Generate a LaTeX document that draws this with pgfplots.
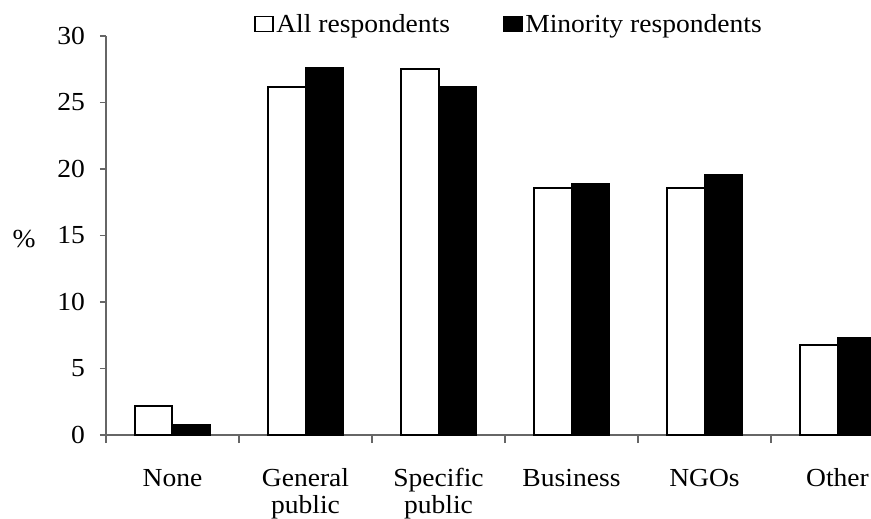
\documentclass[border=0pt]{standalone}
\usepackage{fontspec}
\setmainfont[FakeStretch=1.06]{Liberation Serif}
\usepackage{pgfplots}
\pgfplotsset{compat=1.18}
\begin{document}
\begin{tikzpicture}
\begin{axis}[
  at={(0pt,0pt)}, anchor=south west,
  scale only axis,
  width=573.75pt, height=299.25pt,
  xmin=-0.5, xmax=5.2519,
  ymin=0, ymax=30,
  ybar=0pt,
  bar width=28.125pt,
  axis x line*=bottom,
  axis y line*=left,
  axis line style={black!60, line width=0.9pt, -},
  ytick={0,5,...,30},
  ytick style={black!60, line width=0.9pt},
  tick align=outside,
  major tick length=4.5pt,
  xtick={0,1,2,3,4,5},
  xticklabels={\strut None, \strut General\\public, \strut Specific\\public, \strut Business, \strut NGOs, \strut Other},
  x tick style={draw=none},
  extra x ticks={-0.5,0.5,1.5,2.5,3.5,4.5},
  extra x tick labels={},
  extra x tick style={tick align=outside, major tick length=6pt, x tick style={draw=black!60, line width=0.9pt}},
  /pgf/number format/assume math mode=true,
  tick label style={font=\fontsize{19.5}{20.5}\selectfont},
  yticklabel style={xshift=-7.8pt},
  xticklabel style={align=center, yshift=-16.3pt},
  ylabel={\%},
  every axis y label/.style={at={(axis description cs:0,0.5)}, anchor=center, xshift=-61.5pt, yshift=-3pt, font=\fontsize{19.5}{21.5}\selectfont},
  legend columns=2,
  legend style={draw=none, fill=none, at={(0.5274,1.030)}, anchor=center,
    font=\fontsize{19.5}{21.5}\selectfont,
    /tikz/every even column/.append style={column sep=38pt}},
  legend image code/.code={\draw[#1, line width=1.2pt] (0pt,-5.6pt) rectangle (13.2pt,5.6pt);},
  clip=true,
]
\addplot[draw=black, fill=white, line width=1.5pt] coordinates {(0,2.2) (1,26.2) (2,27.5) (3,18.6) (4,18.6) (5,6.8)};
\addplot[draw=black, fill=black, line width=1pt] coordinates {(0,0.8) (1,27.6) (2,26.2) (3,18.9) (4,19.6) (5,7.35)};
\legend{All respondents, Minority respondents}
\end{axis}
\pgfresetboundingbox
\path[use as bounding box] (-79.5pt,-62.25pt) rectangle (573.75pt,326.25pt);
\end{tikzpicture}
\end{document}
